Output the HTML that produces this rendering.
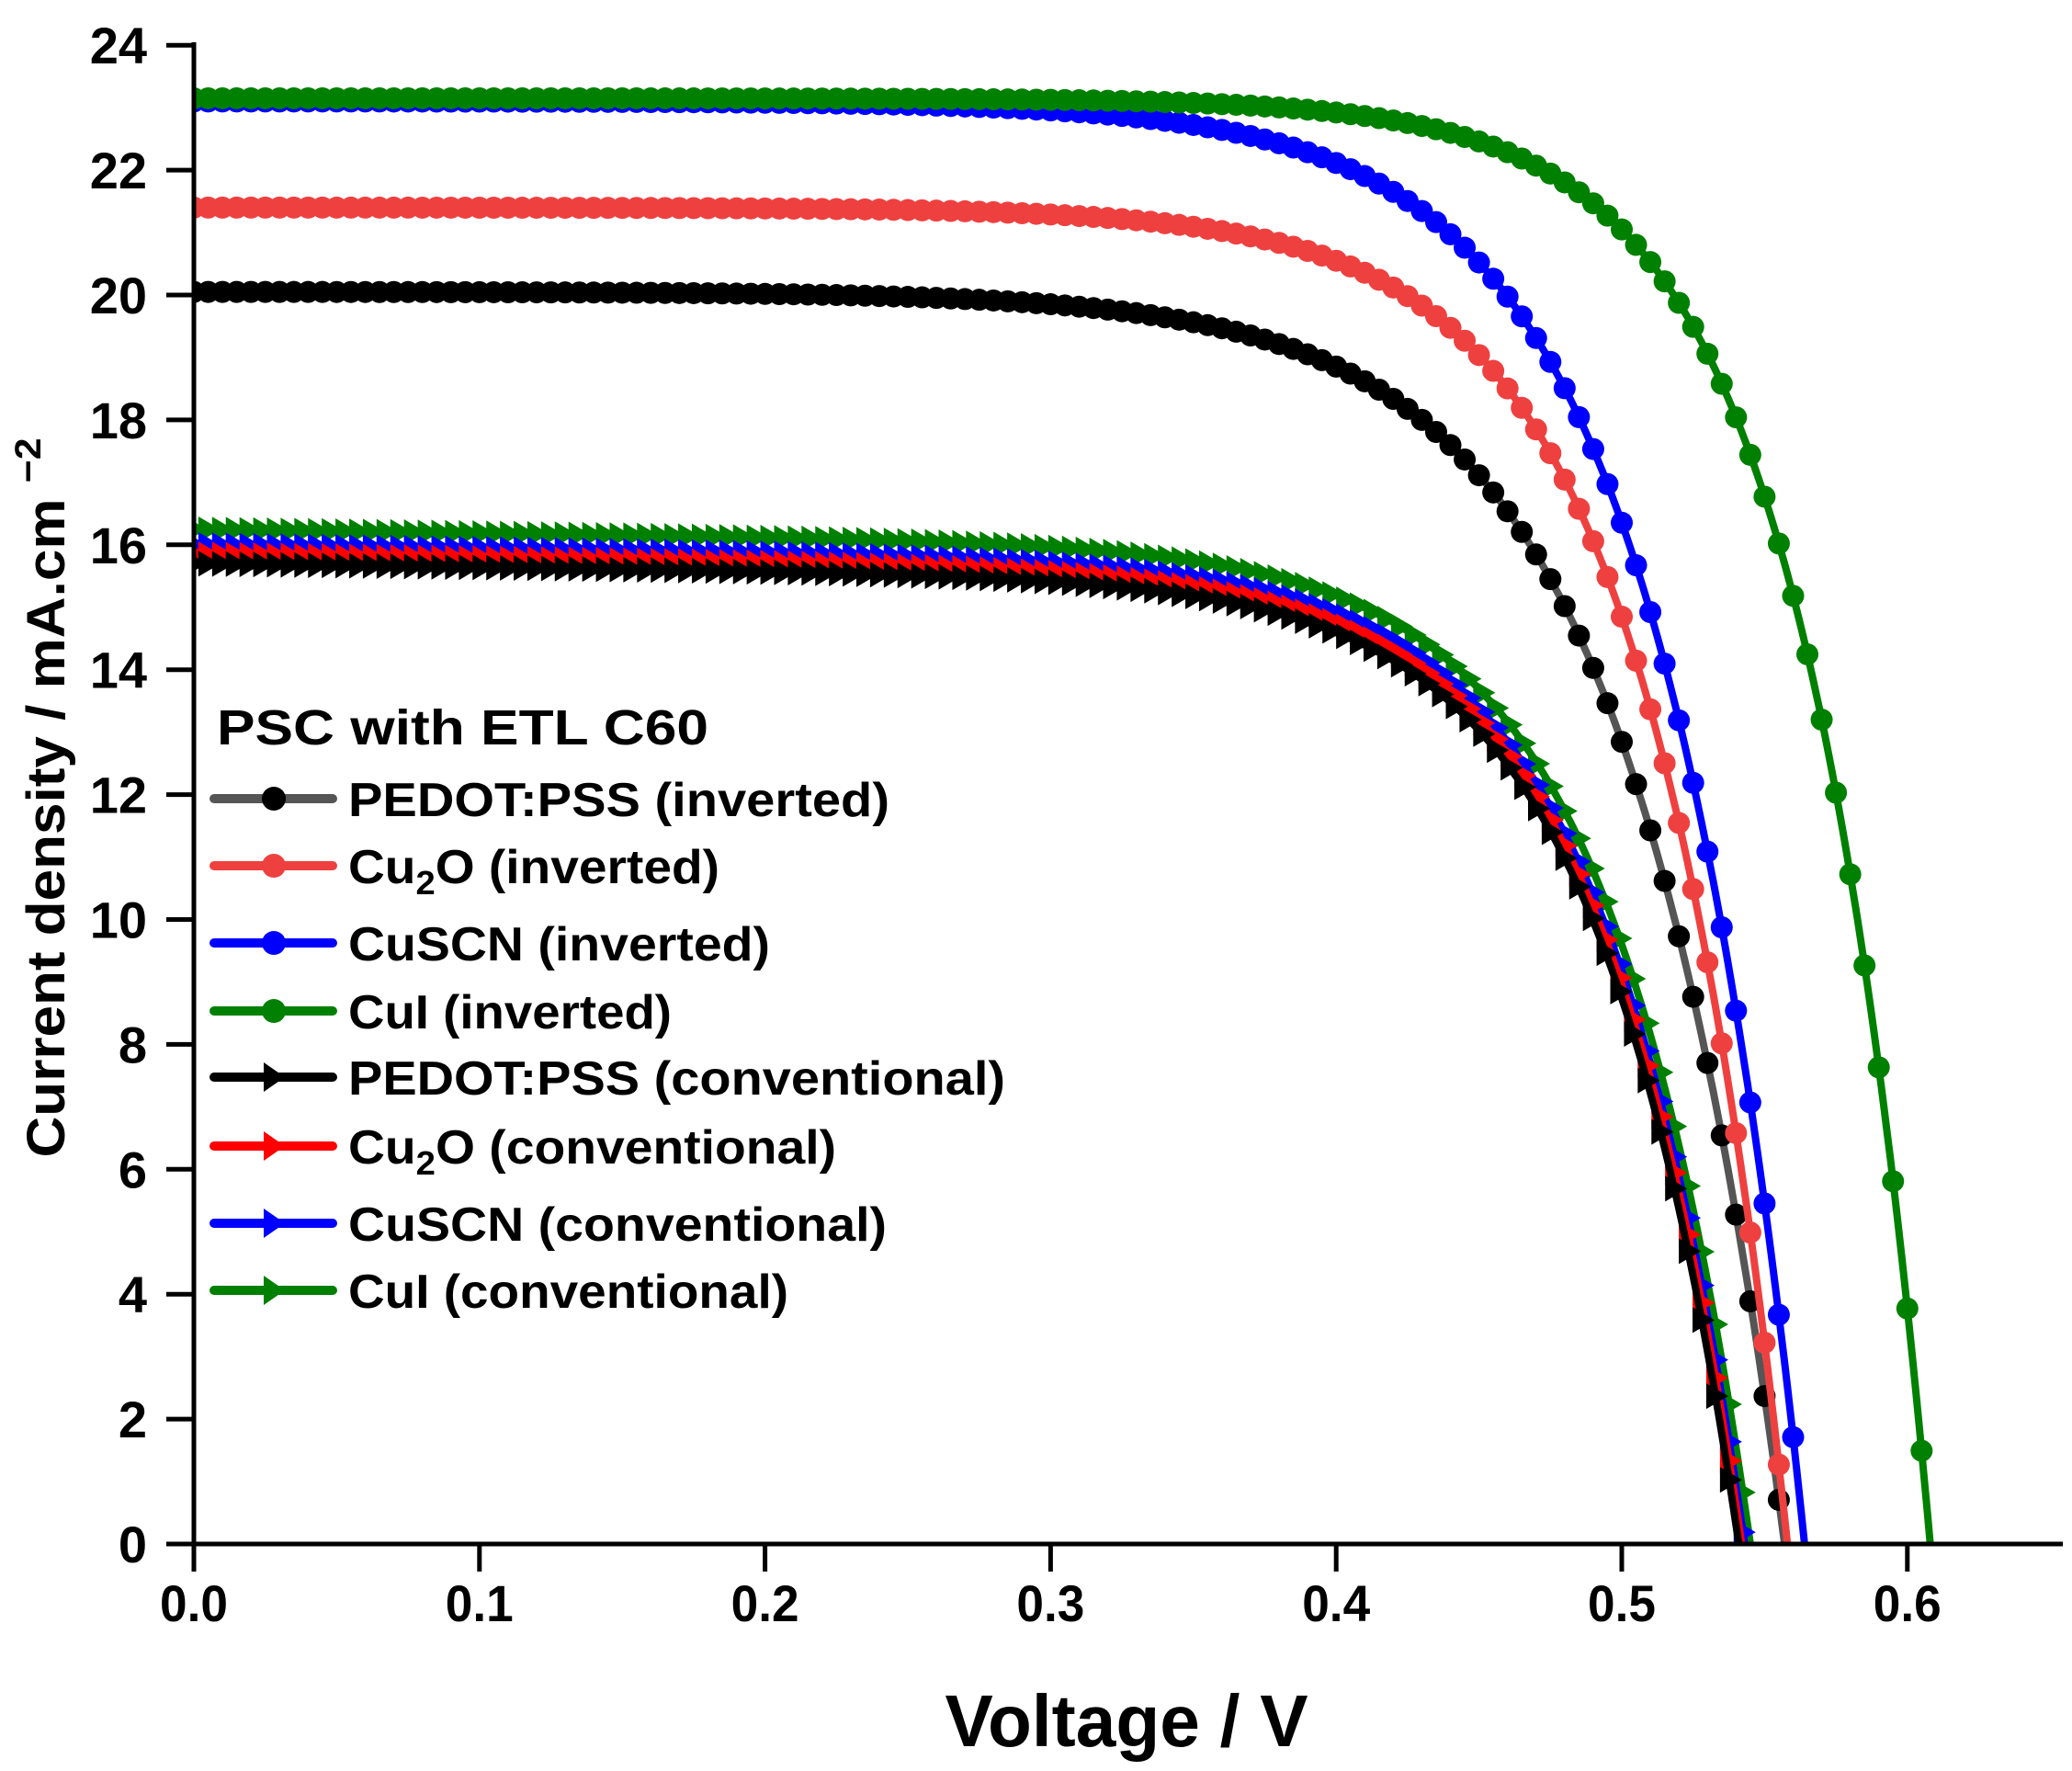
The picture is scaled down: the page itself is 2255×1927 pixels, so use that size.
<!DOCTYPE html>
<html><head><meta charset="utf-8"><style>
html,body{margin:0;padding:0;background:#fff;}
svg{display:block;font-family:"Liberation Sans",Arial,sans-serif;font-weight:bold;}
</style></head><body>
<svg id="s" width="2255" height="1927" viewBox="0 0 2255 1927" xmlns="http://www.w3.org/2000/svg">
<defs><clipPath id="c"><rect x="211" y="0" width="2050" height="1680"/></clipPath></defs>
<g id="curves" clip-path="url(#c)"></g>
<g stroke="#000" stroke-width="5" fill="none">
<line x1="211" y1="46" x2="211" y2="1682"/>
<line x1="209" y1="1680" x2="2245" y2="1680"/>
</g>
<g id="ticks" stroke="#000" stroke-width="5"></g>
<g id="labels" font-size="56" fill="#000"></g>
<text x="1226" y="1900" font-size="80" text-anchor="middle" textLength="395" lengthAdjust="spacingAndGlyphs">Voltage / V</text>
<text transform="translate(70,868) rotate(-90)" font-size="58" text-anchor="middle" textLength="783" lengthAdjust="spacingAndGlyphs">Current density / mA.cm <tspan font-size="40" dy="-26">−2</tspan></text>
<g id="legend"></g>
</svg>
<script>
var NS="http://www.w3.org/2000/svg";
function X(v){return 211+v*3108;}
function Y(j){return 1680-j*67.95;}
function el(p,t,a,txt){var e=document.createElementNS(NS,t);for(var k in a)e.setAttribute(k,a[k]);if(txt!=null)e.textContent=txt;p.appendChild(e);return e;}
var tk=document.getElementById('ticks'),lb=document.getElementById('labels');
for(var j=0;j<=24;j+=2){el(tk,'line',{x1:181,y1:Y(j),x2:211,y2:Y(j)});el(lb,'text',{x:160,y:Y(j)+20,'text-anchor':'end'},String(j));}
for(var i=0;i<=6;i++){var v=i/10;el(tk,'line',{x1:X(v),y1:1680,x2:X(v),y2:1710});el(lb,'text',{x:X(v),y:1764,'text-anchor':'middle',textLength:74,lengthAdjust:'spacingAndGlyphs'},v.toFixed(1));}
var cg=document.getElementById('curves');
var S=[
 {c:'#008000',lc:'#008000',jsc:16.25,voc:0.546,n:0.049,tri:1},
 {c:'#0000ff',lc:'#0000ff',jsc:16.0,voc:0.544,n:0.049,tri:1},
 {c:'#ff0000',lc:'#ff0000',jsc:15.85,voc:0.543,n:0.049,tri:1},
 {c:'#000',lc:'#000',jsc:15.7,voc:0.542,n:0.049,tri:1},
 {c:'#000',lc:'#555',jsc:20.05,voc:0.557,n:0.0557},
 {c:'#ef4040',lc:'#ef4040',jsc:21.4,voc:0.558,n:0.049},
 {c:'#0000ff',lc:'#0000ff',jsc:23.1,voc:0.564,n:0.052},
 {c:'#008000',lc:'#008000',jsc:23.15,voc:0.608,n:0.045}
];
S.forEach(function(s){
 var I0=s.jsc/(Math.exp(s.voc/s.n)-1);
 function J(v){return s.jsc-I0*(Math.exp(v/s.n)-1)-(s.tri?0.6*v:0);}
 var d='';
 for(var v=0;v<=s.voc+0.0001;v+=0.001){var jj=J(v);if(jj<0)jj=0;d+=(d?'L':'M')+X(v).toFixed(1)+','+Y(jj).toFixed(1);}
 el(cg,'path',{d:d,stroke:s.lc,'stroke-width':8,fill:'none'});
 var step=s.tri?0.0048:0.005;
 for(var v=0;v<=s.voc;v+=step){var jj=J(v);if(jj<0)break;var x=X(v),y=Y(jj);
  if(s.tri)el(cg,'polygon',{points:(x-10)+','+(y-14)+' '+(x+14)+','+y+' '+(x-10)+','+(y+14),fill:s.c});
  else el(cg,'circle',{cx:x,cy:y,r:12,fill:s.c});}
});
var lg=document.getElementById('legend');
el(lg,'text',{x:236,y:810,'font-size':54,textLength:535,lengthAdjust:'spacingAndGlyphs'},'PSC with ETL C60');
var L=[
 ['#555','#000',0,869,589,['PEDOT:PSS (inverted)']],
 ['#ef4040','#ef4040',0,942,404,['Cu','2','O (inverted)']],
 ['#0000ff','#0000ff',0,1026,459,['CuSCN (inverted)']],
 ['#008000','#008000',0,1100,352,['CuI (inverted)']],
 ['#000','#000',1,1172,715,['PEDOT:PSS (conventional)']],
 ['#ff0000','#ff0000',1,1247,531,['Cu','2','O (conventional)']],
 ['#0000ff','#0000ff',1,1331,586,['CuSCN (conventional)']],
 ['#008000','#008000',1,1404,479,['CuI (conventional)']]
];
L.forEach(function(r){
 var y=r[3];
 el(lg,'line',{x1:233,y1:y,x2:362,y2:y,stroke:r[0],'stroke-width':10,'stroke-linecap':'round'});
 if(r[2])el(lg,'polygon',{points:'287,'+(y-16)+' 310,'+y+' 287,'+(y+16),fill:r[1]});
 else el(lg,'circle',{cx:298,cy:y,r:13,fill:r[1]});
 var t=el(lg,'text',{x:379,y:y+19,'font-size':52,textLength:r[4],lengthAdjust:'spacingAndGlyphs'});
 if(r[5].length==1)t.textContent=r[5][0];
 else{el(t,'tspan',{},r[5][0]);el(t,'tspan',{'font-size':36,dy:12},r[5][1]);el(t,'tspan',{dy:-12},r[5][2]);}
});
</script>
</body></html>
